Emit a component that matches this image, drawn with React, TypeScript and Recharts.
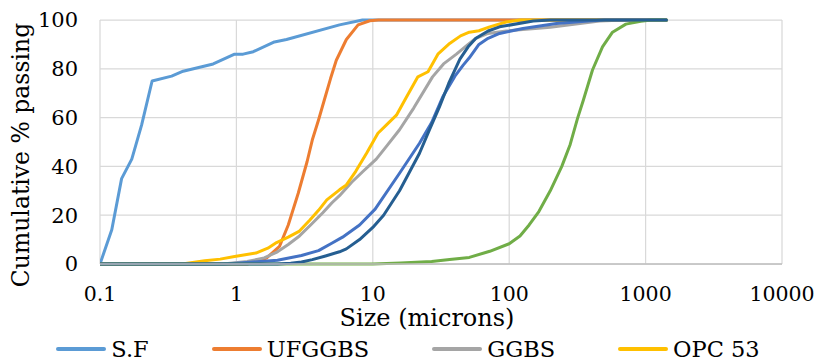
import React from 'react';
import { LineChart, Line, XAxis, YAxis, CartesianGrid, Legend, Label } from 'recharts';

const sfSize = [0.1, 0.122, 0.144, 0.171, 0.202, 0.241, 0.335, 0.407, 0.676, 0.97, 1.12, 1.33, 1.9, 2.33, 5.7, 8.4, 1420];
const sfPass = [0, 14, 35, 43, 57, 75, 77, 79, 82, 86, 86, 87, 91, 92, 98, 100, 100];

const ufSize = [0.1, 1.2, 1.66, 2.07, 2.4, 2.84, 3.3, 3.6, 4.0, 4.4, 4.9, 5.4, 6.4, 7.8, 9.5, 11, 1420];
const ufPass = [0, 0, 2.4, 7.2, 16, 29, 42, 50.8, 59, 67, 76, 83.5, 92, 98, 99.7, 100, 100];

const ggSize = [0.1, 0.8, 1.2, 1.6, 2, 2.4, 2.9, 3.5, 4.3, 5, 5.7, 7, 8.5, 10.6, 12.5, 15.7, 20, 27.4, 33, 41, 50, 57, 70, 95, 200, 460, 700, 1420];
const ggPass = [0, 0, 1, 2.5, 5, 8, 11.5, 16, 21, 25, 28, 33.5, 38, 43, 48, 55, 64, 76.7, 82, 86, 90, 92.5, 94.5, 95.5, 97, 99.6, 100, 100];

const opcSize = [0.1, 0.4, 0.586, 0.76, 0.97, 1.39, 1.7, 1.97, 2.4, 2.9, 3.46, 4.0, 4.6, 5.7, 6.4, 7.5, 9.0, 10.9, 12.6, 14.9, 17.5, 21.4, 25.4, 30, 36.6, 44, 51, 60, 72, 95, 120, 1420];
const opcPass = [0, 0, 1.3, 2, 3.1, 4.5, 6.5, 8.8, 11, 13.5, 18, 22, 26.3, 30.4, 32.4, 38, 45.4, 53.6, 57, 61, 68, 76.7, 78.8, 86, 90.4, 93.5, 95, 95.6, 97.2, 99.2, 100, 100];

const s5Size = [0.1, 0.8, 1.0, 1.5, 2, 3, 4, 5, 6, 8, 10.4, 15.7, 22, 27, 32.6, 40, 46, 51, 60, 70, 85, 126, 222, 380, 500, 1420];
const s5Pass = [0, 0, 0.3, 1, 1.5, 3.5, 5.5, 8.5, 11, 16, 22.5, 37.2, 49.5, 58, 68.5, 77, 81.5, 84.5, 90, 92.5, 94.5, 96.5, 98.6, 99.6, 100, 100];

const s6Size = [0.1, 10, 16, 27, 36.6, 51, 72, 100, 120, 140, 165, 200, 243, 280, 317, 349, 408, 483, 572, 717, 922, 1100, 1420];
const s6Pass = [0, 0, 0.4, 1, 1.8, 2.7, 5.2, 8.3, 11.5, 16, 21.5, 30, 40, 49, 59.7, 67, 79.5, 89, 95, 98.3, 99.5, 100, 100];

const s7Size = [0.1, 2, 2.5, 3, 3.6, 4.5, 5.7, 6.4, 8, 10, 12, 15.7, 22, 26, 30.8, 36, 43.5, 50, 57, 70, 85, 150, 200, 1420];
const s7Pass = [0, 0, 0.3, 0.8, 1.8, 3.3, 5, 6.2, 10, 15, 20, 30, 45.4, 55, 64.4, 74, 84, 89, 92.5, 95.5, 97.2, 99.6, 100, 100];

const xTicks = [0.1, 1, 10, 100, 1000, 10000];
const yTicks = [0, 20, 40, 60, 80, 100];

const build = (sizes: number[], vals: number[]) => sizes.map((s, i) => ({ size: s, pass: vals[i] }));

const series = [
  { name: 'S.F', color: '#5B9BD5', data: build(sfSize, sfPass), legend: true },
  { name: 'UFGGBS', color: '#ED7D31', data: build(ufSize, ufPass), legend: true },
  { name: 'GGBS', color: '#A5A5A5', data: build(ggSize, ggPass), legend: true },
  { name: 'OPC 53', color: '#FFC000', data: build(opcSize, opcPass), legend: true },
  { name: 's5', color: '#4472C4', data: build(s5Size, s5Pass), legend: false },
  { name: 's6', color: '#70AD47', data: build(s6Size, s6Pass), legend: false },
  { name: 's7', color: '#255E91', data: build(s7Size, s7Pass), legend: false },
];

const FONT = '"DejaVu Serif", "Liberation Serif", serif';

const LegendContent = () => (
  <div style={{ display: 'flex', justifyContent: 'center', alignItems: 'center', height: 24, width: 816, fontFamily: FONT, fontSize: 22.5, color: '#000', lineHeight: '24px' }}>
    {series.filter((s) => s.legend).map((s, i) => (
      <div key={s.name} style={{ display: 'flex', alignItems: 'center', marginLeft: i === 0 ? 0 : 63 }}>
        <div style={{ width: 50, height: 3.5, background: s.color, borderRadius: 2, marginRight: 5 }} />
        <span>{s.name}</span>
      </div>
    ))}
  </div>
);

export default function App() {
  return (
    <div style={{ position: 'absolute', left: 0, top: 0, width: 816, height: 361, background: '#fff' }}>
      <LineChart width={816} height={361} margin={{ top: 20, right: 34, left: 0, bottom: 0 }}>
        <CartesianGrid stroke="#D9D9D9" strokeWidth={1.25} />
        <XAxis
          dataKey="size"
          type="number"
          scale="log"
          domain={[0.1, 10000]}
          ticks={xTicks}
          allowDataOverflow
          height={73}
          tickSize={0}
          tickLine={false}
          tickMargin={22}
          axisLine={{ stroke: '#BFBFBF', strokeWidth: 1.5 }}
          tick={{ fontFamily: FONT, fontSize: 20.5, fill: '#000' }}
          tickFormatter={(v: number) => String(v)}
          interval={0}
        >
          <Label
            content={() => (
              <text x={427} y={326} textAnchor="middle" fontFamily={FONT} fontSize={24} fill="#000">
                Size (microns)
              </text>
            )}
          />
        </XAxis>
        <YAxis
          type="number"
          domain={[0, 100]}
          ticks={yTicks}
          width={100}
          tickSize={0}
          tickLine={false}
          tickMargin={22}
          axisLine={false}
          tick={{ fontFamily: FONT, fontSize: 21, fill: '#000' }}
          interval={0}
        >
          <Label
            content={() => (
              <text x={29} y={155} transform="rotate(-90 29 155)" textAnchor="middle" fontFamily={FONT} fontSize={23.5} fill="#000">
                Cumulative % passing
              </text>
            )}
          />
        </YAxis>
        <Legend verticalAlign="bottom" height={24} content={LegendContent} wrapperStyle={{ left: 0, width: 816 }} />
        {series.map((s) => (
          <Line
            key={s.name}
            data={s.data}
            dataKey="pass"
            name={s.name}
            type="linear"
            stroke={s.color}
            strokeWidth={3}
            dot={false}
            activeDot={false}
            isAnimationActive={false}
            legendType={s.legend ? 'line' : 'none'}
            strokeLinejoin="round"
            strokeLinecap="round"
          />
        ))}
      </LineChart>
    </div>
  );
}
